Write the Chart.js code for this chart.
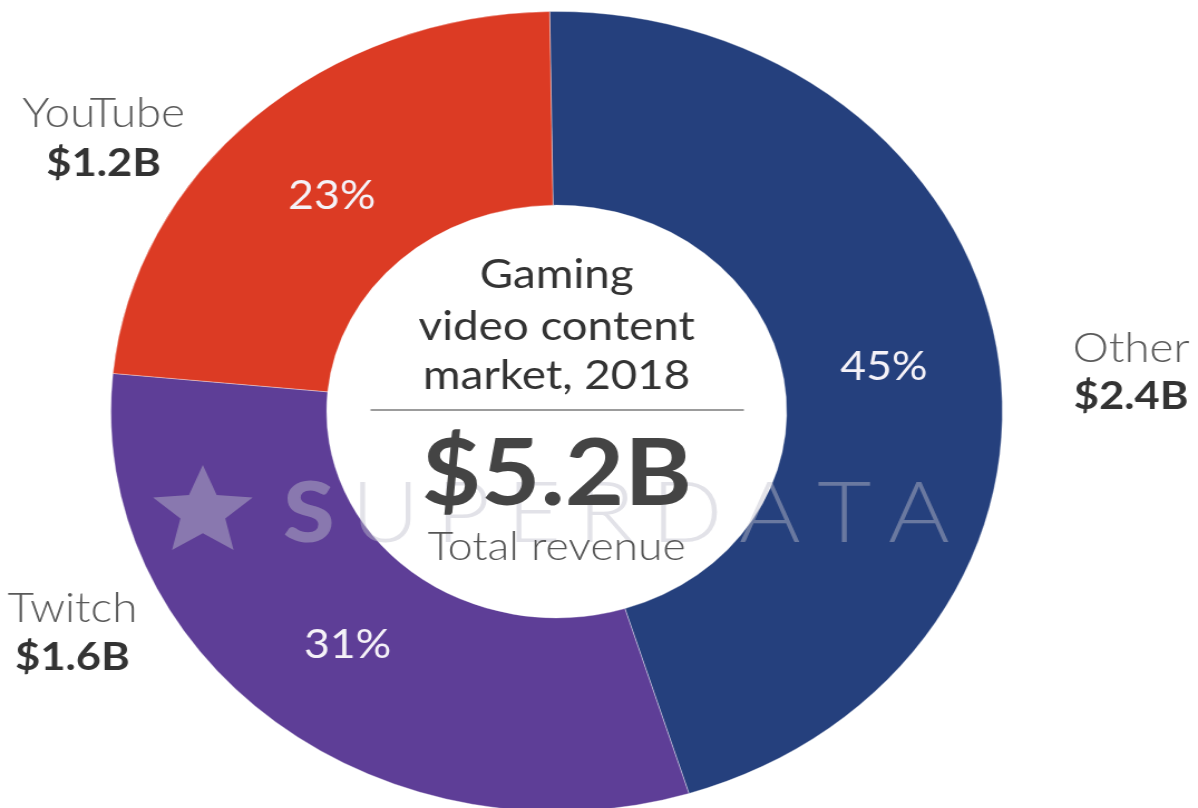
<!DOCTYPE html>
<html>
<head>
<meta charset="utf-8">
<title>Gaming video content market, 2018</title>
<script src="https://cdn.jsdelivr.net/npm/chart.js@4.4.1/dist/chart.umd.min.js"></script>
<style>
    html, body { margin: 0; padding: 0; background: #fff; overflow: hidden; }
    /* the source picture is stretched sideways, so the whole stage is too */
    #stage {
        position: absolute; left: 0; top: 0;
        width: 1075px; height: 830px;
        transform: scaleX(1.1144); transform-origin: 0 0;
    }
</style>
</head>
<body>
<div id="stage"><canvas id="marketChart"></canvas></div>
<script>
// Data
const categories = ['Other', 'Twitch', 'YouTube'];
const shares = [45, 31, 23];
const revenueBillions = [2.4, 1.6, 1.2];
const sliceColors = ['#25407d', '#5e3e97', '#dc3b24'];

// Where the name / value labels sit (unstretched px, baselines)
const labelSpots = {
    Other:   { x: 1015, name: 362, value: 409 },
    Twitch:  { x: 65,   name: 622, value: 670 },
    YouTube: { x: 93,   name: 127, value: 176 }
};

const money = v => '$' + v.toFixed(1) + 'B';
const total = revenueBillions.reduce((a, b) => a + b, 0);

function drawStar(ctx, x, y, r) {
    ctx.beginPath();
    for (let i = 0; i < 10; i++) {
        const rr = i % 2 === 0 ? r : r * 0.45;
        const a = -Math.PI / 2 + i * Math.PI / 5;
        ctx.lineTo(x + Math.cos(a) * rr, y + Math.sin(a) * rr);
    }
    ctx.closePath();
    ctx.fill();
}

const overlayPlugin = {
    id: 'overlay',
    afterDatasetsDraw(chart) {
        const ctx = chart.ctx;
        const arcs = chart.getDatasetMeta(0).data;
        const cx = arcs[0].x, cy = arcs[0].y;
        ctx.save();

        // percentages inside the ring
        ctx.fillStyle = '#f5f2f8';
        ctx.font = '400 40px Lato';
        ctx.textAlign = 'center';
        ctx.textBaseline = 'middle';
        arcs.forEach((arc, i) => {
            const p = arc.getProps(['startAngle', 'endAngle', 'innerRadius', 'outerRadius'], true);
            const mid = (p.startAngle + p.endAngle) / 2;
            const r = p.innerRadius + (p.outerRadius - p.innerRadius) * 0.47;
            ctx.fillText(shares[i] + '%', cx + Math.cos(mid) * r, cy + Math.sin(mid) * r + 3);
        });

        // watermark
        ctx.fillStyle = 'rgba(190, 190, 205, 0.45)';
        drawStar(ctx, 182, 512, 47);
        const mark = 'SUPERDATA'.split('');
        const markFonts = mark.map((c, i) => (i === 0 ? '900' : '300') + ' 84px Lato');
        const widths = mark.map((c, i) => { ctx.font = markFonts[i]; return ctx.measureText(c).width; });
        const gap = (598 - widths.reduce((a, b) => a + b, 0)) / (mark.length - 1);
        ctx.textAlign = 'left';
        ctx.textBaseline = 'alphabetic';
        let mx = 254;
        mark.forEach((c, i) => {
            ctx.font = markFonts[i];
            ctx.fillText(c, mx, 542);
            mx += widths[i] + gap;
        });

        // centre block
        ctx.textAlign = 'center';
        ctx.fillStyle = '#333';
        ctx.font = '400 41px Lato';
        ctx.fillText('Gaming', cx, 288);
        ctx.fillText('video content', cx, 340);
        ctx.fillText('market, 2018', cx, 389);
        ctx.strokeStyle = '#9c9c9c';
        ctx.lineWidth = 2;
        ctx.beginPath();
        ctx.moveTo(cx - 167, 410);
        ctx.lineTo(cx + 168, 410);
        ctx.stroke();
        ctx.fillStyle = '#444';
        ctx.font = '700 92px Lato';
        ctx.fillText(money(total), cx, 505);
        ctx.fillStyle = '#555';
        ctx.font = '300 40px Lato';
        ctx.fillText('Total revenue', cx, 560);

        // outer labels
        categories.forEach((name, i) => {
            const s = labelSpots[name];
            ctx.fillStyle = '#595959';
            ctx.font = '300 41px Lato';
            ctx.fillText(name, s.x, s.name);
            ctx.fillStyle = '#333';
            ctx.font = '700 39px Lato';
            ctx.fillText(money(revenueBillions[i]), s.x, s.value);
        });

        ctx.restore();
    }
};

document.addEventListener('DOMContentLoaded', function() {
    const ctx = document.getElementById('marketChart').getContext('2d');
    const marketChart = new Chart(ctx, {
        type: 'doughnut',
        data: {
            labels: categories,
            datasets: [{
                data: shares,
                backgroundColor: sliceColors,
                borderColor: 'rgba(255, 255, 255, 0.35)',
                borderWidth: 1,
                hoverOffset: 0
            }]
        },
        options: {
            responsive: true,
            maintainAspectRatio: false,
            animation: false,
            rotation: -0.9,
            cutout: '51.6%',
            layout: {
                padding: { left: 99, right: 175, top: 11, bottom: 18 }
            },
            plugins: {
                legend: { display: false },
                tooltip: { enabled: false }
            }
        },
        plugins: [overlayPlugin]
    });
});
</script>
</body>
</html>
